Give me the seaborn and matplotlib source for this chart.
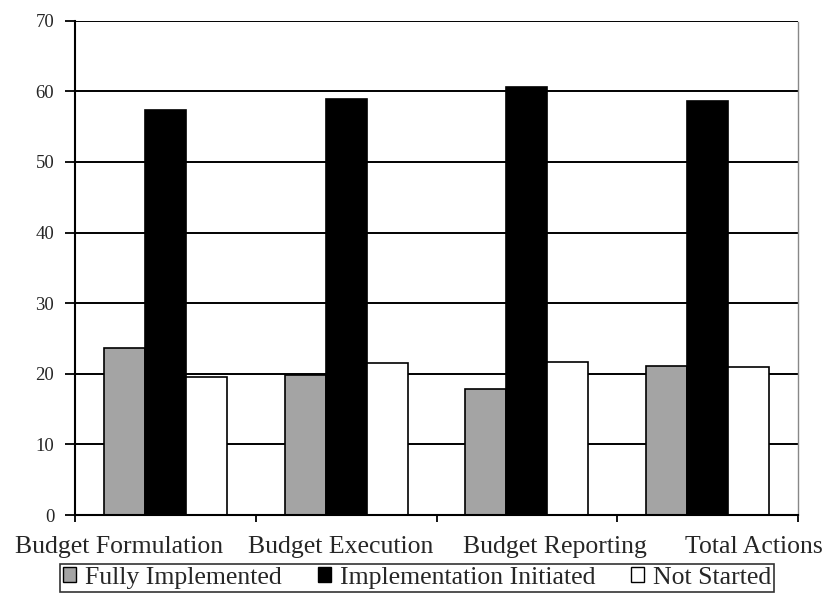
import pandas as pd
import matplotlib.pyplot as plt
import matplotlib.transforms as mtransforms
import seaborn as sns

# Datos (porcentaje de acciones)
categorias = ['Budget Formulation', 'Budget Execution', 'Budget Reporting', 'Total Actions']
fully_implemented = [23.7, 19.8, 17.9, 21.1]
implementation_initiated = [57.3, 58.9, 60.6, 58.6]
not_started = [19.6, 21.5, 21.7, 21.0]
series = ['Fully Implemented', 'Implementation Initiated', 'Not Started']
y_ticks = [0, 10, 20, 30, 40, 50, 60, 70]

# En el original las etiquetas no quedan centradas en cada grupo
desplaz_etiquetas = [-0.257, -0.028, 0.155, 0.257]

sns.set_theme(style="white")
plt.rcParams['font.family'] = ['Liberation Serif', 'DejaVu Serif']

rows = []
for i, cat in enumerate(categorias):
    rows.append({'cat': cat, 'serie': series[0], 'valor': fully_implemented[i]})
    rows.append({'cat': cat, 'serie': series[1], 'valor': implementation_initiated[i]})
    rows.append({'cat': cat, 'serie': series[2], 'valor': not_started[i]})
df = pd.DataFrame(rows)

colores = ['#a4a4a4', 'black', 'white']

fig = plt.figure(figsize=(8.31, 5.96), dpi=100)
ax = fig.add_axes([0.0903, 0.1359, 0.870, 0.8294])

ax.set_axisbelow(True)
ax.yaxis.grid(True, color='black', linewidth=1.4)

sns.barplot(data=df, x='cat', y='valor', hue='serie', ax=ax,
            palette=colores, edgecolor='black',
            linewidth=1.2, width=0.68, saturation=1, legend=False)

ax.set_ylim(0, 70)
ax.set_yticks(y_ticks)
ax.set_xlim(-0.5, 3.5)
ax.set_xlabel('')
ax.set_ylabel('')

for s in ['left', 'bottom']:
    ax.spines[s].set_color('black')
    ax.spines[s].set_linewidth(1.5)
ax.spines['top'].set_visible(False)
ax.spines['right'].set_color('#888888')
ax.spines['right'].set_linestyle((0, (1, 1)))
ax.spines['right'].set_linewidth(1.0)

ax.tick_params(axis='y', direction='out', length=7, width=1.3, color='black',
               left=True, labelsize=13.5, pad=8)
ax.tick_params(axis='x', which='major', length=0, labelbottom=False)
ax.set_xticks([-0.5, 0.5, 1.5, 2.5, 3.5], minor=True)
ax.tick_params(axis='x', which='minor', direction='out', length=5, width=1.3,
               color='black', bottom=True)

# etiquetas de categoría
trans = mtransforms.blended_transform_factory(ax.transData, fig.transFigure)
for i, cat in enumerate(categorias):
    ax.text(i + desplaz_etiquetas[i], 0.072, cat, transform=trans,
            ha='center', va='baseline', fontsize=18.5, clip_on=False)

handles = [plt.Rectangle((0, 0), 1, 1, facecolor=c, edgecolor='black', linewidth=1)
           for c in colores]
leg = fig.legend(handles, series, loc='lower center', bbox_to_anchor=(0.502, 0.007),
                 ncol=3, frameon=True, fancybox=False, fontsize=18.5,
                 handlelength=0.5, handleheight=0.5, handletextpad=0.35,
                 columnspacing=1.4, borderpad=0.12, borderaxespad=0)
leg.get_frame().set_edgecolor('black')
leg.get_frame().set_linewidth(1.2)

plt.savefig('out.png', dpi=100)
plt.close()
